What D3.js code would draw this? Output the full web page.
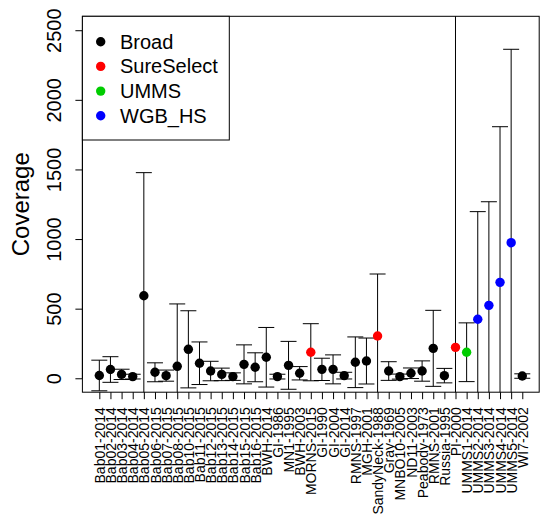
<!DOCTYPE html>
<html>
<head>
<meta charset="utf-8">
<script src="https://cdn.jsdelivr.net/npm/d3@7"></script>
<style>
  body { margin: 0; background: #fff; }
  svg { display: block; font-family: "Liberation Sans", Arial, Helvetica, sans-serif; }
</style>
</head>
<body>
<svg id="chart" width="540" height="515"></svg>
<script>
// Samples along the x axis
const samples = [
  "Bab01-2014", "Bab02-2014", "Bab03-2014", "Bab04-2014", "Bab05-2014",
  "Bab06-2015", "Bab07-2015", "Bab08-2015", "Bab10-2015", "Bab11-2015",
  "Bab12-2015", "Bab13-2015", "Bab14-2015", "Bab15-2015", "Bab16-2015",
  "BWH-2014", "GI-1986", "MN1-1995", "BWH-2003", "MORNS-2015",
  "GI-1990", "GI-2004", "GI-2014", "RMNS-1997", "MGH-2001",
  "SandyNeck-1988", "Gray-1969", "MNBO10-2005", "ND11-2003", "Peabody-1973",
  "RMNS-2001", "Russia-1995", "PI-2000", "UMMS1-2014", "UMMS2-2014",
  "UMMS3-2014", "UMMS4-2014", "UMMS5-2014", "WI7-2002"
];
// Sequencing platform of each sample
const platform = [
  "Broad", "Broad", "Broad", "Broad", "Broad",
  "Broad", "Broad", "Broad", "Broad", "Broad",
  "Broad", "Broad", "Broad", "Broad", "Broad",
  "Broad", "Broad", "Broad", "Broad", "SureSelect",
  "Broad", "Broad", "Broad", "Broad", "Broad",
  "SureSelect", "Broad", "Broad", "Broad", "Broad",
  "Broad", "Broad", "SureSelect", "UMMS", "WGB_HS",
  "WGB_HS", "WGB_HS", "WGB_HS", "Broad"
];
// Mean coverage per sample
const meanCov = [
  20, 63, 28, 12, 593,
  43, 19, 86, 208, 108,
  52, 28, 12, 100, 79,
  151, 12, 93, 36, 187,
  64, 64, 19, 115, 124,
  304, 52, 12, 36, 52,
  215, 19, 222, 187, 424,
  524, 689, 974, 16
];
// Standard deviation of coverage per sample
const sdCov = [
  110, 92, 37, 17, 884,
  68, 40, 448, 277, 153,
  70, 45, 27, 140, 104,
  214, 17, 172, 48, 205,
  80, 104, 24, 182, 165,
  445, 67, 18, 38, 73,
  273, 52, 2800, 211, 773,
  744, 1118, 1389, 16
];
// Legend entries and their colours
const groups = ["Broad", "SureSelect", "UMMS", "WGB_HS"];
const groupColors = ["#000000", "#FF0000", "#00CD00", "#0000FF"];
// Y axis ticks
const yTicks = [0, 500, 1000, 1500, 2000, 2500];

const rows = samples.map((s, i) => ({
  name: s, group: platform[i], mean: meanCov[i], sd: sdCov[i]
}));

const plot = { left: 82.4, right: 539.2, top: 16.3, bottom: 392.2 };
const svg = d3.select("#chart");

const x = d3.scalePoint()
  .domain(samples)
  .range([plot.left, plot.right])
  .padding(1.52);

const y = d3.scaleLinear()
  .domain([-100, 2600])
  .range([plot.bottom, plot.top]);

const color = d3.scaleOrdinal().domain(groups).range(groupColors);

svg.append("defs").append("clipPath").attr("id", "plotclip")
  .append("rect")
  .attr("x", plot.left).attr("y", plot.top)
  .attr("width", plot.right - plot.left)
  .attr("height", plot.bottom - plot.top);

// Error bars (mean +/- sd) with end caps
const bars = svg.append("g").attr("clip-path", "url(#plotclip)")
  .attr("stroke", "#000").attr("stroke-width", 1).attr("fill", "none");
const capHalf = 8;
rows.forEach(d => {
  const cx = x(d.name);
  const yHi = y(d.mean + d.sd), yLo = y(d.mean - d.sd);
  bars.append("line").attr("x1", cx).attr("x2", cx).attr("y1", yHi).attr("y2", yLo);
  bars.append("line").attr("x1", cx - capHalf).attr("x2", cx + capHalf).attr("y1", yHi).attr("y2", yHi);
  bars.append("line").attr("x1", cx - capHalf).attr("x2", cx + capHalf).attr("y1", yLo).attr("y2", yLo);
});

// Mean points
svg.append("g").attr("clip-path", "url(#plotclip)")
  .selectAll("circle").data(rows).join("circle")
  .attr("cx", d => x(d.name))
  .attr("cy", d => y(d.mean))
  .attr("r", 4.7)
  .attr("fill", d => color(d.group));

// X axis with vertical sample labels
const xAxis = svg.append("g")
  .attr("transform", `translate(0,${plot.bottom})`)
  .call(d3.axisBottom(x).tickSize(7).tickSizeOuter(0));
xAxis.select(".domain").remove();
xAxis.selectAll(".tick line").attr("stroke", "#000");
xAxis.selectAll(".tick text")
  .attr("transform", "rotate(-90)")
  .attr("x", -15)
  .attr("y", 0)
  .attr("dy", "0.36em")
  .attr("text-anchor", "end")
  .attr("fill", "#000")
  .style("font-size", "14px")
  .style("font-family", "'Liberation Sans', Arial, sans-serif");

// Y axis
const yAxis = svg.append("g")
  .attr("transform", `translate(${plot.left},0)`)
  .call(d3.axisLeft(y).tickValues(yTicks).tickFormat(d3.format("d"))
    .tickSize(7).tickSizeOuter(0));
yAxis.select(".domain")
  .attr("d", `M0,${y(yTicks[0])}V${y(yTicks[yTicks.length - 1])}`)
  .attr("stroke", "#000");
yAxis.selectAll(".tick line").attr("stroke", "#000");
yAxis.selectAll(".tick text")
  .attr("transform", "rotate(-90)")
  .attr("x", 0)
  .attr("y", -21.5)
  .attr("dy", 0)
  .attr("text-anchor", "middle")
  .attr("fill", "#000")
  .style("font-size", "20px")
  .style("font-family", "'Liberation Sans', Arial, sans-serif");

// Y axis title
svg.append("text")
  .attr("transform", `translate(29,${(plot.top + plot.bottom) / 2}) rotate(-90)`)
  .attr("text-anchor", "middle")
  .style("font-size", "24px")
  .text("Coverage");

// Plot frame
svg.append("rect")
  .attr("x", plot.left).attr("y", plot.top)
  .attr("width", plot.right - plot.left)
  .attr("height", plot.bottom - plot.top)
  .attr("fill", "none").attr("stroke", "#000").attr("stroke-width", 1);

// Legend
const legend = svg.append("g");
legend.append("rect")
  .attr("x", plot.left).attr("y", plot.top)
  .attr("width", 229.3 - plot.left).attr("height", 140 - plot.top)
  .attr("fill", "#fff").attr("stroke", "#000").attr("stroke-width", 1);
groups.forEach((g, i) => {
  const ly = 41.7 + i * 24.7;
  legend.append("circle").attr("cx", 100.7).attr("cy", ly).attr("r", 4.7)
    .attr("fill", groupColors[i]);
  legend.append("text").attr("x", 120).attr("y", ly).attr("dy", "0.35em")
    .style("font-size", "20px").text(g);
});
</script>
</body>
</html>
